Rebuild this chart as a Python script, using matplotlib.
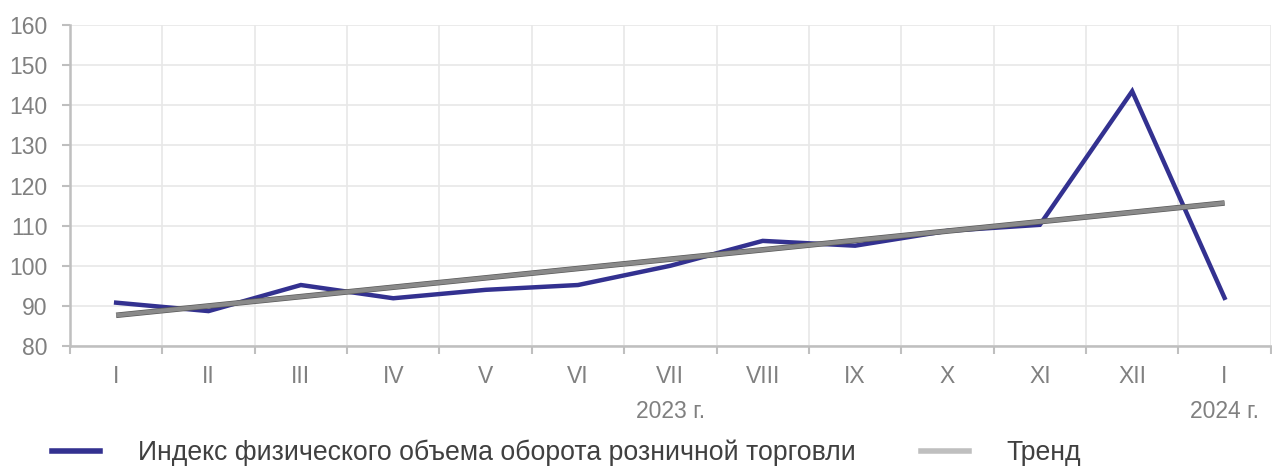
import numpy as np
import matplotlib.pyplot as plt
from matplotlib.lines import Line2D
import matplotlib.patheffects as pe

plt.rcParams['font.family'] = ['Liberation Sans', 'DejaVu Sans']

months = ['I', 'II', 'III', 'IV', 'V', 'VI', 'VII', 'VIII', 'IX', 'X', 'XI', 'XII', 'I']
index_values = [90.8, 88.7, 95.2, 91.9, 94.0, 95.2, 100.0, 106.2, 105.0, 108.7, 110.2, 143.5, 92.0]
year_labels = ['2023 г.', '2024 г.']
year_positions = [6, 12]

series_label = 'Индекс физического объема оборота розничной торговли'
trend_label = 'Тренд'

blue = '#333190'
text_gray = '#808080'
axis_gray = '#bfbfbf'
grid_gray = '#e8e8e8'

x = np.arange(len(months))
y = np.array(index_values)
# linear trend, same as the Excel trendline
slope, intercept = np.polyfit(x, y, 1)
trend = slope * x + intercept

fig = plt.figure(figsize=(12.72, 4.66), dpi=100)
ax = fig.add_axes([0.055, 0.2575, 0.944, 0.6888])

ax.plot(x, y, color=blue, lw=3.2, solid_joinstyle='miter', zorder=3)
ax.plot(x, trend, color='#8a8a8a', lw=3.0, solid_capstyle='butt', zorder=4,
        path_effects=[pe.Stroke(linewidth=4.0, foreground='#5a5a5a'), pe.Normal()])

ax.set_xlim(-0.5, len(months) - 0.5)
ax.set_ylim(80, 160)
ax.set_yticks(np.arange(80, 161, 10))

ax.set_xticks(x)
ax.set_xticklabels(months)
ax.set_xticks(np.arange(-0.5, len(months), 1), minor=True)
ax.tick_params(axis='x', which='major', length=0, pad=14, labelsize=16.5, labelcolor=text_gray)
ax.tick_params(axis='x', which='minor', length=6, width=1.5, color=axis_gray, direction='out')
ax.tick_params(axis='y', which='major', length=6, width=1.5, color=axis_gray, pad=10,
               labelsize=16.5, labelcolor=text_gray)

ax.grid(True, axis='y', which='major', color=grid_gray, lw=1.2)
ax.grid(True, axis='x', which='minor', color=grid_gray, lw=1.2)
ax.grid(False, axis='x', which='major')
ax.set_axisbelow(True)

for side in ['top', 'right']:
    ax.spines[side].set_visible(False)
for side in ['left', 'bottom']:
    ax.spines[side].set_color(axis_gray)
    ax.spines[side].set_linewidth(1.8)

for lbl, pos in zip(year_labels, year_positions):
    ax.annotate(lbl, xy=(pos, 0), xycoords=('data', 'axes fraction'),
                xytext=(0, -47), textcoords='offset points', ha='center', va='center',
                fontsize=16.5, color=text_gray)

handles = [Line2D([], [], color=blue, lw=4),
           Line2D([], [], color=axis_gray, lw=4)]
fig.legend(handles, [series_label, trend_label], loc='center left',
           bbox_to_anchor=(0.041, 0.028), ncol=2, frameon=False, fontsize=19.2,
           handlelength=1.8, handletextpad=1.42, columnspacing=2.43,
           borderpad=0, borderaxespad=0, labelcolor='#404040')

fig.savefig('out.png', dpi=100)
